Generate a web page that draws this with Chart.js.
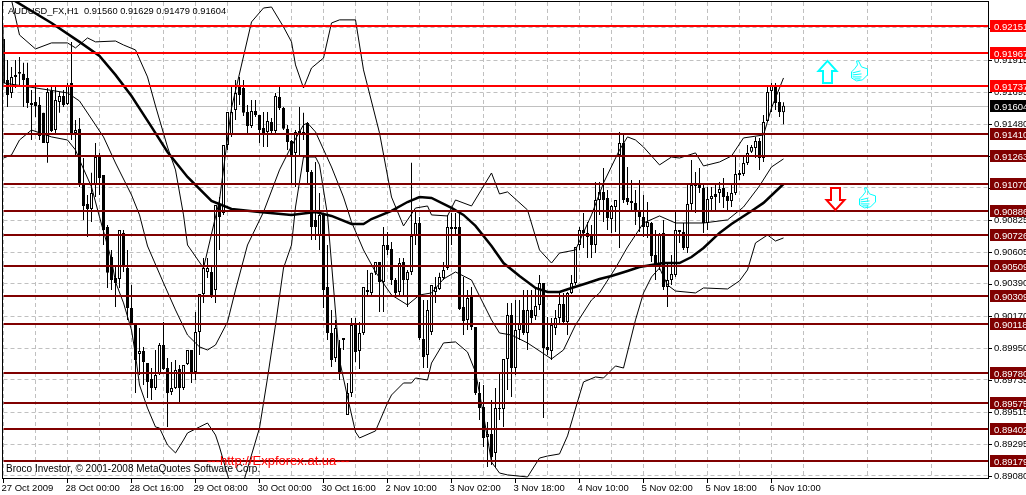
<!DOCTYPE html>
<html lang="en">
<head>
<meta charset="UTF-8">
<title>AUDUSD_FX,H1</title>
<script src="https://cdn.jsdelivr.net/npm/chart.js"></script>
<style>
  html, body { margin: 0; padding: 0; background: #fff; overflow: hidden; }
  canvas { display: block; }
</style>
</head>
<body>
<canvas id="chart" width="1026" height="495"></canvas>
<script>
// H1 candles, one entry per bar
const openPrices = [
  0.92060,0.91780,0.91692,0.91815,0.91822,0.91822,0.91794,0.91624,0.91630,0.91610,
  0.91556,0.91351,0.91705,0.91439,0.91630,0.91671,0.91617,0.91760,0.91419,0.91447,
  0.91064,0.90935,0.90901,0.91064,0.91255,0.91133,0.90778,0.90573,0.90430,0.90423,
  0.90737,0.90498,0.90225,0.90110,0.89912,0.89932,0.89851,0.89741,0.89680,0.89776,
  0.89973,0.89816,0.89652,0.89680,0.89810,0.89680,0.89844,0.89939,0.89789,0.90062,
  0.90321,0.90471,0.90471,0.90348,0.90928,0.90873,0.91337,0.91405,0.91576,0.91732,
  0.91725,0.91562,0.91467,0.91569,0.91542,0.91453,0.91425,0.91494,0.91432,0.91664,
  0.91589,0.91447,0.91364,0.91283,0.91419,0.91419,0.91487,0.91153,0.90826,0.90723,
  0.90860,0.90368,0.90055,0.89885,0.89953,0.90021,0.89496,0.89646,0.90117,0.89932,
  0.90055,0.90348,0.90328,0.90465,0.90539,0.90403,0.90655,0.90628,0.90416,0.90335,
  0.90539,0.90416,0.90471,0.90716,0.90805,0.90014,0.89905,0.90062,0.90335,0.90355,
  0.90430,0.90498,0.90778,0.90778,0.90778,0.90232,0.90144,0.90301,0.90096,0.89646,
  0.89550,0.89346,0.89366,0.89237,0.89537,0.89537,0.89878,0.90178,0.89816,0.90075,
  0.90212,0.90055,0.90212,0.90171,0.90246,0.90396,0.89959,0.89932,0.90089,0.90157,
  0.90253,0.90130,0.90328,0.90396,0.90655,0.90757,0.90737,0.90716,0.90655,0.90962,
  0.91017,0.90976,0.90832,0.90914,0.91269,0.91351,0.90976,0.90955,0.90942,0.90894,
  0.90846,0.90778,0.90805,0.90587,0.90519,0.90737,0.90369,0.90416,0.90451,0.90757,
  0.90744,0.90635,0.90935,0.91057,0.91064,0.91044,0.90805,0.90969,0.91003,0.91010,
  0.91044,0.90989,0.90955,0.91010,0.91146,0.91139,0.91214,0.91290,0.91317,0.91364,
  0.91248,0.91501,0.91705,0.91746,0.91630,0.91560
]
const closePrices = [
  0.91760,0.91678,0.91801,0.91801,0.91835,0.91780,0.91624,0.91610,0.91603,0.91398,
  0.91351,0.91698,0.91432,0.91644,0.91671,0.91610,0.91746,0.91419,0.91439,0.91078,
  0.90921,0.90901,0.91010,0.91255,0.91112,0.90757,0.90465,0.90416,0.90396,0.90757,
  0.90505,0.90225,0.90110,0.89871,0.89932,0.89857,0.89721,0.89680,0.89769,0.89973,
  0.89810,0.89646,0.89680,0.89803,0.89680,0.89837,0.89939,0.89782,0.90062,0.90321,
  0.90498,0.90498,0.90301,0.90928,0.90846,0.91337,0.91562,0.91562,0.91692,0.91678,
  0.91556,0.91467,0.91569,0.91542,0.91439,0.91419,0.91501,0.91432,0.91671,0.91589,
  0.91447,0.91357,0.91269,0.91425,0.91432,0.91425,0.91153,0.90778,0.90778,0.90860,
  0.90348,0.90055,0.89871,0.90089,0.89782,0.90007,0.89646,0.90110,0.89926,0.90055,
  0.90369,0.90335,0.90465,0.90539,0.90403,0.90655,0.90621,0.90416,0.90328,0.90532,
  0.90416,0.90471,0.90716,0.90805,0.90021,0.89891,0.90212,0.90382,0.90369,0.90437,
  0.90485,0.90778,0.90764,0.90764,0.90219,0.90137,0.90294,0.90096,0.89646,0.89544,
  0.89339,0.89366,0.89209,0.89544,0.89544,0.89878,0.90178,0.89816,0.90075,0.90123,
  0.90055,0.90212,0.90157,0.90239,0.90396,0.89953,0.89939,0.90110,0.90157,0.90253,
  0.90130,0.90328,0.90396,0.90642,0.90757,0.90737,0.90710,0.90655,0.90962,0.91017,
  0.90962,0.90839,0.90921,0.90962,0.91351,0.90962,0.90948,0.90942,0.90894,0.90846,
  0.90778,0.90812,0.90580,0.90519,0.90730,0.90369,0.90416,0.90457,0.90757,0.90744,
  0.90635,0.90935,0.91064,0.91064,0.91044,0.90805,0.90969,0.90989,0.90982,0.91037,
  0.90982,0.90955,0.91010,0.91139,0.91133,0.91214,0.91283,0.91323,0.91364,0.91248,
  0.91494,0.91698,0.91746,0.91624,0.91562,0.91604
]
const highPrices = [
  0.92142,0.91917,0.91869,0.91917,0.91937,0.91897,0.91897,0.91712,0.91760,0.91664,
  0.91556,0.91725,0.91732,0.91732,0.91698,0.91712,0.91760,0.92040,0.91508,0.91521,
  0.91248,0.90996,0.91147,0.91351,0.91283,0.91133,0.90792,0.90621,0.90505,0.90757,
  0.90757,0.90621,0.90382,0.90110,0.90089,0.89959,0.89851,0.89816,0.89939,0.89987,
  0.90130,0.89885,0.89857,0.89871,0.89837,0.89837,0.89939,0.89939,0.90198,0.90321,
  0.90567,0.90567,0.90519,0.90928,0.90982,0.91337,0.91562,0.91732,0.91780,0.91801,
  0.91780,0.91610,0.91644,0.91644,0.91542,0.91562,0.91562,0.91521,0.91692,0.91732,
  0.91596,0.91474,0.91371,0.91439,0.91596,0.91556,0.91494,0.91167,0.91221,0.91010,
  0.90860,0.90655,0.90212,0.90144,0.90007,0.90021,0.89714,0.90157,0.90157,0.90130,
  0.90369,0.90485,0.90465,0.90539,0.90539,0.90778,0.90744,0.90675,0.90430,0.90567,
  0.90567,0.90485,0.91215,0.90880,0.90846,0.90280,0.90280,0.90382,0.90437,0.90465,
  0.90539,0.90860,0.90873,0.90873,0.90894,0.90437,0.90348,0.90369,0.90096,0.89721,
  0.89700,0.89448,0.89598,0.89680,0.89782,0.89878,0.90260,0.90260,0.90280,0.90280,
  0.90348,0.90348,0.90348,0.90362,0.90450,0.90396,0.90164,0.90157,0.90212,0.90328,
  0.90328,0.90335,0.90450,0.90642,0.90778,0.90873,0.90812,0.90792,0.91085,0.91085,
  0.91180,0.91030,0.90928,0.90962,0.91425,0.91405,0.91187,0.91098,0.91030,0.91098,
  0.90996,0.90948,0.90812,0.90757,0.90737,0.90826,0.90532,0.90587,0.90880,0.90757,
  0.90805,0.91064,0.91235,0.91153,0.91180,0.91064,0.91050,0.91050,0.91078,0.91085,
  0.91112,0.91017,0.91064,0.91269,0.91167,0.91269,0.91337,0.91337,0.91391,0.91385,
  0.91542,0.91746,0.91760,0.91760,0.91698,0.91629
]
const lowPrices = [
  0.91732,0.91596,0.91657,0.91725,0.91732,0.91596,0.91589,0.91371,0.91528,0.91371,
  0.91351,0.91215,0.91425,0.91419,0.91556,0.91596,0.91610,0.91371,0.91255,0.91050,
  0.90826,0.90709,0.90812,0.90982,0.90996,0.90655,0.90362,0.90348,0.90232,0.90362,
  0.90471,0.90144,0.90110,0.89646,0.89769,0.89700,0.89612,0.89598,0.89666,0.89769,
  0.89803,0.89414,0.89632,0.89673,0.89584,0.89666,0.89837,0.89714,0.89734,0.89905,
  0.90260,0.90430,0.90294,0.90260,0.90621,0.90860,0.91303,0.91391,0.91508,0.91610,
  0.91535,0.91405,0.91453,0.91528,0.91351,0.91323,0.91323,0.91419,0.91419,0.91576,
  0.91439,0.91303,0.91078,0.91050,0.91269,0.91371,0.91078,0.90689,0.90689,0.90621,
  0.90225,0.90007,0.89823,0.89857,0.89734,0.89939,0.89496,0.89619,0.89857,0.89810,
  0.90041,0.90314,0.90314,0.90451,0.90198,0.90198,0.90587,0.90382,0.90314,0.90314,
  0.90314,0.90232,0.90451,0.90655,0.90007,0.89816,0.89816,0.90041,0.90260,0.90348,
  0.90416,0.90485,0.90655,0.90716,0.90212,0.90041,0.90075,0.90075,0.89632,0.89462,
  0.89277,0.89141,0.89155,0.89141,0.89462,0.89414,0.89666,0.89619,0.89769,0.90007,
  0.90041,0.89939,0.90110,0.90144,0.90212,0.89475,0.89905,0.89871,0.90041,0.90110,
  0.90110,0.90041,0.90321,0.90382,0.90621,0.90635,0.90567,0.90567,0.90601,0.90860,
  0.90812,0.90757,0.90737,0.90744,0.90635,0.90942,0.90928,0.90894,0.90792,0.90744,
  0.90709,0.90703,0.90539,0.90416,0.90485,0.90348,0.90232,0.90382,0.90437,0.90669,
  0.90621,0.90601,0.90880,0.90873,0.91010,0.90737,0.90757,0.90894,0.90894,0.90942,
  0.90908,0.90894,0.90914,0.90996,0.91098,0.91126,0.91201,0.91283,0.91248,0.91167,
  0.91221,0.91494,0.91562,0.91576,0.91528,0.91479
]

// moving average and the three bands, read at their bends (bar index, price)
const maBars = [2,12,19,24,28,32,37,41,46,52,57,64,72,78,82,87,90,92,97,101,104,107,112,115,118,122,125,129,133,136,139,142,146,149,152,156,159,162,165,169,172,175,179,182,187,190,195]
const maValues = [0.92333,0.92169,0.92040,0.91944,0.91815,0.91671,0.91460,0.91289,0.91119,0.90955,0.90901,0.90880,0.90860,0.90880,0.90853,0.90798,0.90798,0.90832,0.90887,0.90948,0.90982,0.90976,0.90908,0.90860,0.90785,0.90648,0.90532,0.90444,0.90362,0.90335,0.90335,0.90362,0.90396,0.90423,0.90444,0.90478,0.90505,0.90519,0.90532,0.90532,0.90573,0.90635,0.90737,0.90798,0.90887,0.90942,0.91071]
const upperBars = [2,4,8,12,16,18,21,23,28,30,33,36,38,41,43,45,46,50,54,57,62,65,67,70,72,73,75,77,80,82,84,88,90,94,97,100,103,106,107,111,113,117,122,124,126,131,134,137,139,143,147,150,154,156,158,160,164,167,169,173,175,179,182,185,190,192,195]
const upperValues = [0.92326,0.92087,0.91992,0.92033,0.92033,0.91999,0.92067,0.92040,0.92046,0.92019,0.91985,0.91801,0.91603,0.91323,0.91167,0.90860,0.90655,0.90498,0.90962,0.91589,0.92176,0.92271,0.92278,0.92142,0.92040,0.91883,0.91726,0.91862,0.91930,0.92169,0.92190,0.92190,0.91849,0.91419,0.90982,0.90785,0.90907,0.90921,0.90860,0.90853,0.90962,0.90921,0.91146,0.91003,0.91017,0.90894,0.90621,0.90532,0.90600,0.90621,0.90860,0.91078,0.91303,0.91392,0.91371,0.91323,0.91201,0.91255,0.91248,0.91283,0.91194,0.91221,0.91262,0.91385,0.91405,0.91589,0.91794]
const midBars = [0,8,16,19,23,25,28,32,34,36,40,43,46,49,51,53,56,58,61,65,69,72,75,76,78,82,85,87,90,93,97,101,104,107,110,113,117,122,124,127,131,137,140,143,147,149,153,156,160,164,168,175,181,185,189,192,195]
const midValues = [0.91760,0.91726,0.91692,0.91637,0.91474,0.91392,0.91214,0.90996,0.90860,0.90648,0.90396,0.90212,0.90041,0.89960,0.89939,0.89973,0.90130,0.90348,0.90655,0.90880,0.91167,0.91330,0.91474,0.91487,0.91426,0.91187,0.90982,0.90812,0.90621,0.90471,0.90314,0.90246,0.90314,0.90328,0.90423,0.90471,0.90416,0.90144,0.90055,0.90041,0.89987,0.89878,0.89939,0.90110,0.90280,0.90328,0.90498,0.90641,0.90805,0.90853,0.90805,0.90805,0.90826,0.90914,0.91058,0.91187,0.91242]
const lowerBars = [0,2,4,7,12,16,18,19,22,24,27,28,30,32,33,34,36,38,39,41,43,45,46,49,51,53,54,56,58,60,64,66,68,70,72,73,75,78,79,81,84,86,88,89,93,96,97,100,102,103,106,107,110,113,116,118,120,122,124,126,131,134,136,139,141,144,145,148,150,153,155,158,160,162,164,166,168,173,175,181,184,186,188,191,193,195]
const lowerValues = [0.91248,0.91269,0.91371,0.91439,0.91392,0.91371,0.91303,0.91235,0.91051,0.90846,0.90553,0.90403,0.90260,0.90075,0.89905,0.89700,0.89543,0.89414,0.89407,0.89291,0.89237,0.89325,0.89373,0.89414,0.89441,0.89359,0.89277,0.89087,0.88916,0.89039,0.89407,0.89748,0.90110,0.90498,0.90655,0.90914,0.91255,0.91255,0.91201,0.90860,0.89871,0.89618,0.89380,0.89339,0.89387,0.89578,0.89632,0.89714,0.89714,0.89748,0.89734,0.89850,0.89987,0.89994,0.89925,0.89789,0.89496,0.89175,0.89100,0.89087,0.89073,0.89202,0.89216,0.89230,0.89353,0.89632,0.89721,0.89755,0.89748,0.89830,0.89816,0.90144,0.90328,0.90437,0.90498,0.90382,0.90341,0.90328,0.90362,0.90355,0.90410,0.90485,0.90669,0.90723,0.90682,0.90703]

const redLevels = [0.92151, 0.91967, 0.91737]
const darkLevels = [0.91410, 0.91263, 0.91070, 0.90886, 0.90726, 0.90509, 0.90309, 0.90118, 0.89780, 0.89575, 0.89402, 0.89179]
const lastPrice = 0.91604
const yTicks = [0.89080, 0.89295, 0.89515, 0.89735, 0.89950, 0.90170, 0.90390, 0.90605, 0.90825, 0.91045, 0.91260, 0.91480, 0.91695, 0.91915, 0.92135]
const xTickLabels = ['27 Oct 2009', '28 Oct 00:00', '28 Oct 16:00', '29 Oct 08:00', '30 Oct 00:00', '30 Oct 16:00', '2 Nov 10:00', '3 Nov 02:00', '3 Nov 18:00', '4 Nov 10:00', '5 Nov 02:00', '5 Nov 18:00', '6 Nov 10:00']
const xGridStep = 8
const xLabelStep = 16
const lastSlot = 246.125

const fontName = '"Liberation Sans", sans-serif'
const axisFont = '9.5px ' + fontName

function pairs(bars, values) {
  return bars.map((bar, i) => ({ x: bar, y: values[i] }))
}
function lineSet(data, color, width, order) {
  return { type: 'line', data, borderColor: color, borderWidth: width, pointRadius: 0, tension: 0, order }
}

function drawThumb(ctx, x, y) {
  ctx.save()
  ctx.translate(x, y)
  ctx.strokeStyle = '#00ffff'
  ctx.lineWidth = 1
  ctx.beginPath()
  ctx.moveTo(-5, -2)
  ctx.lineTo(-2, -6)
  ctx.lineTo(-3, -10)
  ctx.lineTo(-1, -10)
  ctx.lineTo(2, -4)
  ctx.lineTo(8, -2)
  ctx.lineTo(8, 4)
  ctx.lineTo(3, 9)
  ctx.lineTo(-3, 10)
  ctx.lineTo(-8, 7)
  ctx.lineTo(-8, 1)
  ctx.closePath()
  ctx.moveTo(-7, 2); ctx.lineTo(1, 0)
  ctx.moveTo(-7, 4); ctx.lineTo(2, 3)
  ctx.moveTo(-7, 6); ctx.lineTo(2, 6)
  ctx.moveTo(-5, 8); ctx.lineTo(1, 8)
  ctx.stroke()
  ctx.restore()
}

function drawBlockArrow(ctx, x, y, dir, color) {
  ctx.save()
  ctx.translate(x, y)
  ctx.scale(1, dir)
  ctx.strokeStyle = color
  ctx.fillStyle = '#fff'
  ctx.lineWidth = 2
  ctx.beginPath()
  ctx.moveTo(0, -11)
  ctx.lineTo(9, -1)
  ctx.lineTo(4.5, -1)
  ctx.lineTo(4.5, 11)
  ctx.lineTo(-4.5, 11)
  ctx.lineTo(-4.5, -1)
  ctx.lineTo(-9, -1)
  ctx.closePath()
  ctx.fill()
  ctx.stroke()
  ctx.restore()
}

const marksPlugin = {
  id: 'marks',
  beforeDatasetsDraw(chart) {
    // the current price line runs behind the candles
    const { ctx, chartArea, scales } = chart
    ctx.save()
    ctx.fillStyle = '#c0c0c0'
    ctx.fillRect(chartArea.left, Math.round(scales.y.getPixelForValue(lastPrice)), chartArea.width, 1)
    ctx.restore()
  },
  afterDatasetsDraw(chart) {
    const { ctx, chartArea, scales } = chart
    const px = scales.x, py = scales.y

    // support and resistance levels, snapped to whole pixels
    ctx.save()
    const level = (price, color) => {
      ctx.fillStyle = color
      ctx.fillRect(chartArea.left, Math.round(py.getPixelForValue(price)) - 1, chartArea.width, 2)
    }
    darkLevels.forEach(v => level(v, '#800000'))
    redLevels.forEach(v => level(v, '#ff0000'))
    ctx.restore()

    // arrows and thumbs sit on the price grid
    drawBlockArrow(ctx, px.getPixelForValue(206), py.getPixelForValue(0.91835), 1, '#00ffff')
    drawBlockArrow(ctx, px.getPixelForValue(208), py.getPixelForValue(0.90969), -1, '#ff0000')
    drawThumb(ctx, px.getPixelForValue(214), py.getPixelForValue(0.91842))
    drawThumb(ctx, px.getPixelForValue(216), py.getPixelForValue(0.90976))

    // frame
    ctx.save()
    ctx.strokeStyle = '#000'
    ctx.lineWidth = 1
    ctx.strokeRect(2.5, 1.5, 986, 477)

    // tick marks
    ctx.beginPath()
    yTicks.forEach(v => {
      const y = Math.round(py.getPixelForValue(v)) + 0.5
      ctx.moveTo(989, y); ctx.lineTo(992, y)
    })
    xTickLabels.forEach((_, i) => {
      const x = Math.floor(px.getPixelForValue(i * xLabelStep)) + 0.5
      ctx.moveTo(x, 479); ctx.lineTo(x, 483)
    })
    ctx.stroke()

    // boxes with the level prices on the right
    ctx.font = axisFont
    ctx.textBaseline = 'middle'
    const box = (price, fill) => {
      const y = Math.round(py.getPixelForValue(price))
      ctx.fillStyle = fill
      ctx.fillRect(990, y - 6, 36, 12)
      ctx.fillStyle = '#fff'
      ctx.fillText(price.toFixed(5), 994, y + 1)
    }
    darkLevels.forEach(v => box(v, '#800000'))
    redLevels.forEach(v => box(v, '#ff0000'))
    box(lastPrice, '#000')

    // header and footer texts
    ctx.fillStyle = '#000'
    ctx.font = '9.3px ' + fontName
    ctx.fillText('AUDUSD_FX,H1  ' + [openPrices, highPrices, lowPrices, closePrices].map(a => a[a.length - 1].toFixed(5)).join(' '), 8, 11)
    ctx.font = '10px ' + fontName
    ctx.fillText('Broco Investor, \u00a9 2001-2008 MetaQuotes Software Corp.', 6, 469)
    ctx.fillStyle = '#ff0000'
    ctx.font = '13px ' + fontName
    ctx.fillText('---http://Expforex.at.ua---', 207, 461)
    ctx.restore()
  }
}

new Chart(document.getElementById('chart'), {
  type: 'bar',
  data: {
    datasets: [
      lineSet(pairs(maBars, maValues), '#000', 2.5, 2),
      lineSet(pairs(upperBars, upperValues), '#000', 1, 3),
      lineSet(pairs(midBars, midValues), '#000', 1, 3),
      lineSet(pairs(lowerBars, lowerValues), '#000', 1, 3),
      {
        data: openPrices.map((o, i) => ({ x: i, y: [o, closePrices[i]] })),
        backgroundColor: openPrices.map((o, i) => closePrices[i] >= o ? '#fff' : '#000'),
        borderColor: '#000',
        borderWidth: 1,
        borderSkipped: false,
        inflateAmount: 0,
        barThickness: 3,
        maxBarThickness: 3,
        grouped: false,
        order: 4
      },
      {
        data: lowPrices.map((l, i) => ({ x: i, y: [l, highPrices[i]] })),
        backgroundColor: '#000',
        borderWidth: 0,
        inflateAmount: 0,
        barThickness: 1,
        maxBarThickness: 1,
        grouped: false,
        order: 5
      }
    ]
  },
  options: {
    responsive: false,
    animation: false,
    layout: { autoPadding: false, padding: { left: 3.5, right: 0, top: 2, bottom: 0 } },
    plugins: { legend: { display: false }, tooltip: { enabled: false } },
    scales: {
      x: {
        type: 'linear',
        offset: false,
        min: 0,
        max: lastSlot,
        grid: { color: '#c0c0c0', offset: false, drawTicks: false },
        border: { display: false, dash: [4, 3] },
        ticks: {
          autoSkip: false,
          maxRotation: 0,
          align: 'start',
          padding: 5,
          labelOffset: -2,
          color: '#000',
          font: { family: fontName, size: 9.5 },
          callback: v => v % xLabelStep === 0 ? xTickLabels[v / xLabelStep] : ''
        },
        afterBuildTicks: scale => {
          const ticks = []
          for (let v = 0; v <= 240; v += xGridStep) ticks.push({ value: v })
          scale.ticks = ticks
        },
        afterFit: scale => {
          scale.height = 17
          scale.paddingLeft = 0
          scale.paddingRight = 0
        }
      },
      y: {
        position: 'right',
        min: 0.89066,
        max: 0.92312,
        grid: { color: '#c0c0c0', drawTicks: false },
        border: { display: false, dash: [4, 3] },
        ticks: {
          autoSkip: false,
          padding: 6,
          color: '#000',
          font: { family: fontName, size: 9.5 },
          callback: v => v.toFixed(5)
        },
        afterBuildTicks: scale => { scale.ticks = yTicks.map(value => ({ value })) },
        afterFit: scale => {
          scale.width = 38
          scale.paddingTop = 0
          scale.paddingBottom = 0
        }
      }
    }
  },
  plugins: [marksPlugin]
})
</script>
</body>
</html>
